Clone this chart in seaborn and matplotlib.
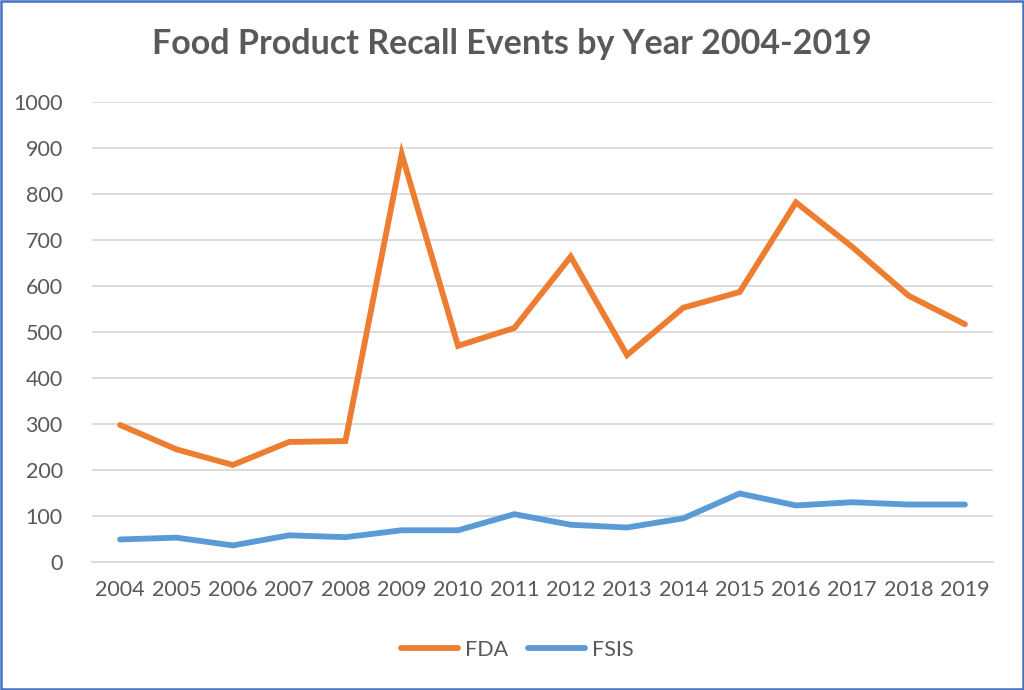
import matplotlib
matplotlib.use("Agg")
import matplotlib.pyplot as plt
import seaborn as sns
import pandas as pd
from matplotlib.patches import Rectangle

years = list(range(2004, 2020))
fda = [298, 245, 211, 261, 263, 887, 470, 509, 664, 450, 553, 587, 782, 685, 579, 517]
fsis = [49, 53, 36, 58, 54, 69, 69, 104, 81, 75, 95, 149, 123, 130, 125, 125]

df = pd.DataFrame({
    "Year": years * 2,
    "Recalls": fda + fsis,
    "Agency": ["FDA"] * len(years) + ["FSIS"] * len(years),
})

sns.set_style("white")
plt.rcParams["font.family"] = ["Lato", "DejaVu Sans"]
text_color = "#595959"

fig = plt.figure(figsize=(10.24, 6.9), dpi=100)
ax = fig.add_axes([0.0898, 0.1855, 0.88, 0.6665])

sns.lineplot(data=df, x="Year", y="Recalls", hue="Agency",
             palette={"FDA": "#ED7D31", "FSIS": "#5B9BD5"},
             linewidth=4.2, ax=ax, legend=True)
for line in ax.get_lines():
    line.set_solid_capstyle("round")
    line.set_solid_joinstyle("miter")

ax.set_xlim(2003.5, 2019.5)
ax.set_ylim(0, 1000)
ax.set_yticks(range(0, 1001, 100))
ax.set_xticks(years)
ax.set_xticklabels([str(y) for y in years])
ax.grid(axis="y", color="#D9D9D9", linewidth=1.3)
ax.set_axisbelow(True)
for s in ["top", "right", "left"]:
    ax.spines[s].set_visible(False)
ax.spines["bottom"].set_color("#D9D9D9")
ax.spines["bottom"].set_linewidth(1.3)
ax.tick_params(axis="both", length=0, labelsize=15.5, colors=text_color)
ax.tick_params(axis="x", pad=13)
ax.tick_params(axis="y", pad=21)
ax.set_xlabel("")
ax.set_ylabel("")

fig.suptitle("Food Product Recall Events by Year 2004-2019", x=0.5, y=0.96,
             fontsize=24.5, fontweight="bold", color=text_color)

handles, labels = ax.get_legend_handles_labels()
ax.legend(handles, labels, loc="center", bbox_to_anchor=(0.505, 0.058),
          bbox_transform=fig.transFigure, ncol=2, frameon=False,
          fontsize=15.5, labelcolor=text_color, handlelength=2.65,
          handletextpad=0.3, columnspacing=0.95)

fig.patches.append(Rectangle((0.001, 0.001), 0.998, 0.997, transform=fig.transFigure,
                             fill=False, edgecolor="#4472C4", linewidth=1.8))

fig.savefig("out.png", dpi=100)
